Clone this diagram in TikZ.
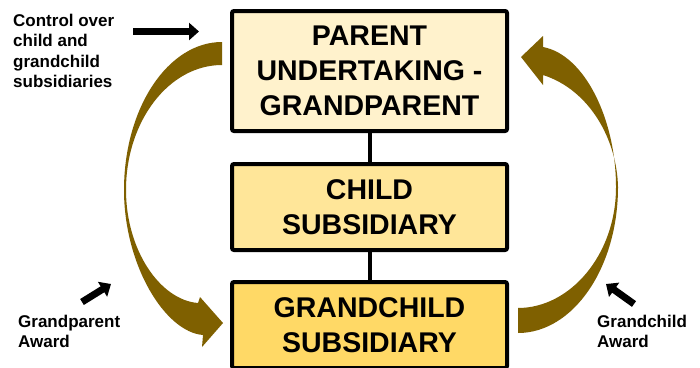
\documentclass[tikz,border=0pt]{standalone}
\usepackage{fontspec}
\setmainfont{Liberation Sans}
\usetikzlibrary{arrows.meta}
\definecolor{boxcream}{HTML}{FFF2CC}
\definecolor{boxlight}{HTML}{FFE699}
\definecolor{boxgold}{HTML}{FFD966}
\definecolor{awardbrown}{HTML}{7F6000}
\tikzset{
  entity/.style={draw=black, line width=4pt, rounded corners=2pt, minimum width=275pt,
    align=center, inner sep=0pt, font=\bfseries\fontsize{28.5}{35}\selectfont},
  note/.style={anchor=north west, align=left, inner sep=0pt,
    font=\bfseries\fontsize{17}{20.5}\selectfont},
  pointer/.style={line width=7pt, -{Triangle[length=10pt,width=17pt]}},
  link/.style={line width=4pt},
  award/.style={fill=awardbrown}
}

\begin{document}
\begin{tikzpicture}[x=1pt,y=-1pt]
				\clip (0,0) rectangle (700,367);
				\fill[white] (0,0) rectangle (700,367);
				
				\node[entity, fill=boxcream, minimum height=120pt] (parent) at (369.5,71) {PARENT\\UNDERTAKING -\\GRANDPARENT};
				\node[entity, fill=boxlight, minimum height=86pt] (child) at (369.5,207) {CHILD\\SUBSIDIARY};
				\node[entity, fill=boxgold, minimum height=86pt] (grandchild) at (369.5,325) {GRANDCHILD\\SUBSIDIARY};
				
				\draw[link] (parent) -- (child);
				\draw[link] (child) -- (grandchild);
				
				\fill[award] (222,42) .. controls (168,42) and (124,108) .. (124,190)
					.. controls (124,265) and (165,332) .. (203,335) -- (202,347) -- (223,323) -- (200,297) -- (198,303)
					.. controls (160,300) and (126,250) .. (126,190)
					.. controls (126,121) and (169,65) .. (222,65) -- cycle;
				
				\fill[award] (518,333) .. controls (573,333) and (618,268) .. (618,187)
					.. controls (617,140) and (590,90) .. (543,75) -- (543,85) -- (521,57) -- (543,36) -- (543,47)
					.. controls (585,55) and (616,120) .. (616,187)
					.. controls (616,255) and (570,308) .. (518,308) -- cycle;
				
				\node[note] (control) at (13,13.6) {Control over\\child and\\grandchild\\subsidiaries};
				\node[note] (gpaward) at (18,314.6) {Grandparent\\Award};
				\node[note] (gcaward) at (597,314.6) {Grandchild\\Award};
				
				\coordinate (controltail) at (133,31.5);
				\coordinate (controlhead) at (199,31.5);
				\coordinate (gptail) at (82,302);
				\coordinate (gphead) at (111,284);
				\coordinate (gctail) at (634,304);
				\coordinate (gchead) at (606,284);
				
				\draw[pointer] (controltail) -- (controlhead);
				\draw[pointer] (gptail) -- (gphead);
				\draw[pointer] (gctail) -- (gchead);
			\end{tikzpicture}
\end{document}
